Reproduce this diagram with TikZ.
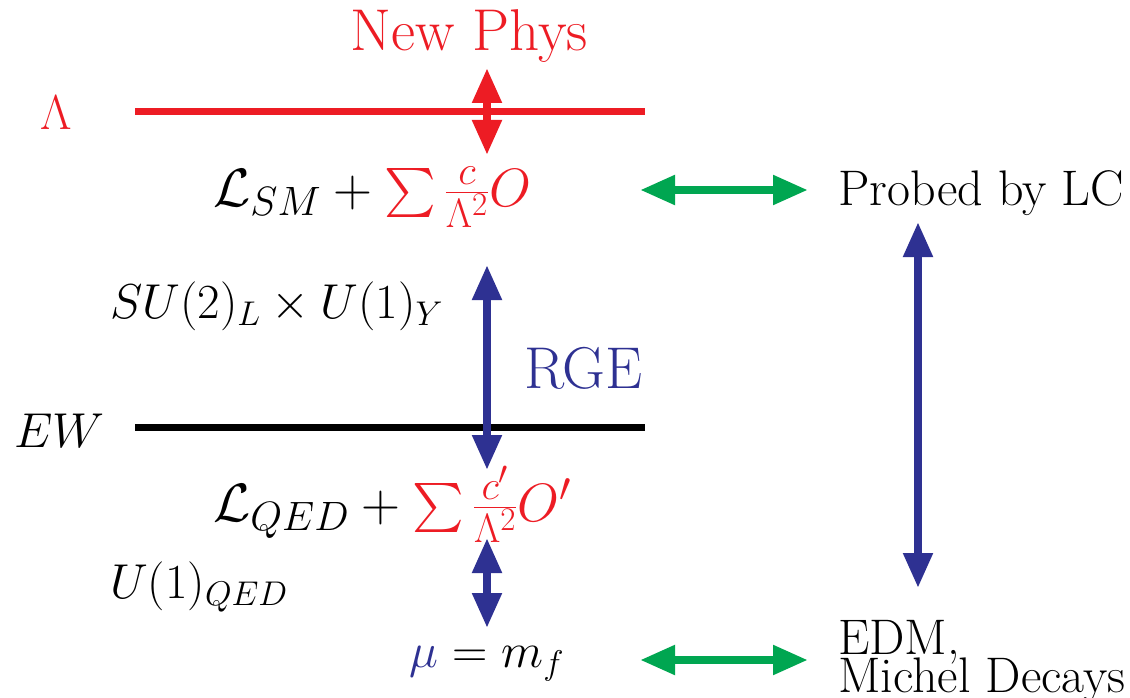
\RequirePackage{fix-cm}
\documentclass[tikz,border=0pt]{standalone}
\usepackage{amsmath}
\usetikzlibrary{arrows.meta}
\definecolor{npred}{HTML}{ED1C24}
\definecolor{npblue}{HTML}{2E3192}
\definecolor{npgreen}{HTML}{00A651}
\DeclareMathSizes{54}{54}{41}{33}
\font\bigsumfont=cmex10 at 49pt
\newcommand{\bigsum}{\mathop{\vcenter{\hbox{\bigsumfont\char"50}}}\nolimits}
\newcommand{\bfr}[2]{\mathinner{\genfrac{}{}{2.2pt}{}{\mbox{\fontsize{44}{44}\selectfont$#1$}}{\mbox{\fontsize{44}{44}\selectfont$#2$}}}}
\tikzset{
  txt/.style={inner sep=0pt, font=\fontsize{49}{52}\selectfont},
  lag/.style={inner sep=0pt, font=\fontsize{54}{58}\selectfont},
  lbl/.style={inner sep=0pt, font=\fontsize{50}{55}\selectfont},
  big/.style={inner sep=0pt, font=\fontsize{59}{65}\selectfont},
  dbl/.style={line width=8pt, {Triangle[width=28pt,length=35pt]}-{Triangle[width=28pt,length=35pt]}},
  level/.style={line width=7pt},
}
\begin{document}
\begin{tikzpicture}[x=1pt,y=-1pt]
\useasboundingbox (0,0) rectangle (1130,698);
% texts
\node[big, text=npred, anchor=base] (np) at (469,51) {New Phys};
\node[txt, text=npred, anchor=base] (lam) at (56,130) {$\Lambda$};
\node[lag, anchor=base west] (lsm) at (213,206) {$\mathcal{L}_{SM}+\textcolor{npred}{\bigsum\frac{c}{\Lambda^2}O}$};
\node[lbl, anchor=base west] (probed) at (838,205) {Probed by LC};
\node[txt, anchor=base west] (su) at (110,318) {$SU(2)_L\times U(1)_Y$};
\node[big, text=npblue, anchor=base east] (rge) at (643,388) {RGE};
\node[txt, anchor=base west] (ew) at (14,447) {$EW$};
\node[lag, anchor=base west] (lqed) at (213,521) {$\mathcal{L}_{QED}+\textcolor{npred}{\bigsum\frac{c'}{\Lambda^2}O'}$};
\node[txt, anchor=base west] (u1) at (110,598) {$U(1)_{QED}$};
\node[txt, anchor=base] (mu) at (487,667) {$\textcolor{npblue}{\mu}=m_f$};
\node[lbl, anchor=base west] (edm) at (838,654) {EDM,};
\node[lbl, anchor=base west] (mich) at (838,692) {Michel Decays};
% levels
\draw[level, npred] (135,112) -- (645,112);
\draw[level, black] (135,427) -- (645,427);
% arrow ends
\coordinate (a1) at (487,68);
\coordinate (a2) at (487,155);
\coordinate (b1) at (487,265);
\coordinate (b2) at (487,470);
\coordinate (c1) at (487,538);
\coordinate (c2) at (487,628);
\coordinate (g1) at (640,190);
\coordinate (g2) at (808,190);
\coordinate (h1) at (640,660);
\coordinate (h2) at (808,660);
\coordinate (r1) at (918,222);
\coordinate (r2) at (918,588);
\draw[dbl, npred] (a1) -- (a2);
\draw[dbl, npblue] (b1) -- (b2);
\draw[dbl, npblue] (c1) -- (c2);
\draw[dbl, npgreen] (g1) -- (g2);
\draw[dbl, npgreen] (h1) -- (h2);
\draw[dbl, npblue] (r1) -- (r2);
\end{tikzpicture}
\end{document}
